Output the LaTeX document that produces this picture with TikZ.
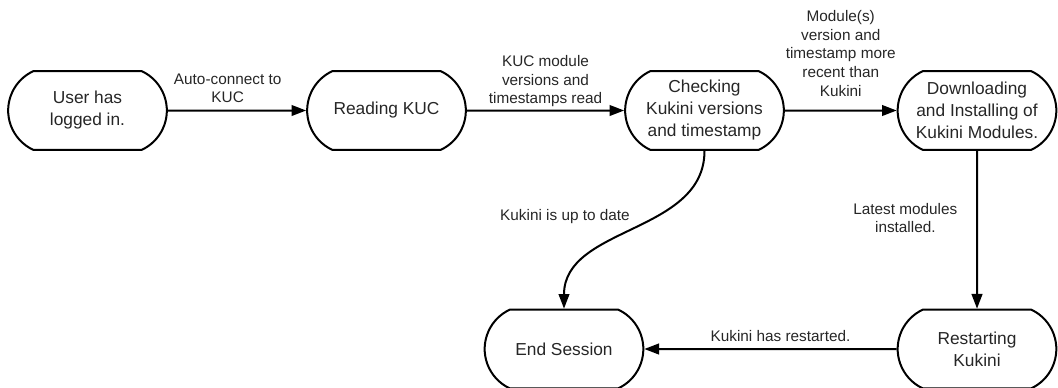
\documentclass[tikz,border=0pt]{standalone}
\usepackage{fontspec}
\setmainfont{Liberation Sans}
\usetikzlibrary{shapes.misc,arrows.meta,positioning}

\tikzset{
	state/.style={draw, line width=1.5pt, rounded rectangle, rounded rectangle arc length=130,
		minimum width=119pt, minimum height=59pt, inner sep=0pt, align=center,
		text=black!85, font=\fontsize{13}{16.5}\selectfont},
	link/.style={draw, line width=1.5pt, -{Triangle[length=11pt,width=8pt]}},
	lbl/.style={align=center, inner sep=2pt, text=black!85, font=\fontsize{11.5}{13.9}\selectfont}
}

\begin{document}
\begin{tikzpicture}[x=0.75pt, y=-0.75pt]
	\useasboundingbox (0,0) rectangle (1058,387);
	% Top row of states
	\node[state] (user) at (87.5,110.5) {User has\\logged in.};
	\node[state] (reading) at (386.5,110.5) {Reading KUC};
	\node[state] (checking) at (704.5,110.5) {Checking\\Kukini versions\\and timestamp};
	\node[state] (download) at (977,110.5) {Downloading\\and Installing of\\Kukini Modules.};
	% Bottom row of states
	\node[state] (endsession) at (564,349) {End Session};
	\node[state] (restart) at (977,349) {Restarting\\Kukini};
	% User -> Reading
	\draw[link] (user) -- node[lbl, above=3pt, xshift=-7pt] (autolbl) {Auto-connect to\\KUC} (reading);
	% Reading -> Checking
	\draw[link] (reading) -- node[lbl, above=0pt] (readlbl) {KUC module\\versions and\\timestamps read} (checking);
	% Checking -> Downloading
	\draw[link] (checking) -- node[lbl, above=8pt] (newerlbl) {Module(s)\\version and\\timestamp more\\recent than\\Kukini} (download);
	% Checking -> End Session
	\draw[link] (checking.south) to[out=-90, in=90] (endsession.north);
	\node[lbl] (uptodatelbl) at (565,217) {Kukini is up to date};
	% Downloading -> Restarting
	\draw[link] (download) -- node[lbl, pos=0.427, left=12pt] (installedlbl) {Latest modules\\installed.} (restart);
	% Restarting -> End Session
	\draw[link] (restart) -- node[lbl, above=3pt, xshift=7.5pt] (restartlbl) {Kukini has restarted.} (endsession);
\end{tikzpicture}
\end{document}
